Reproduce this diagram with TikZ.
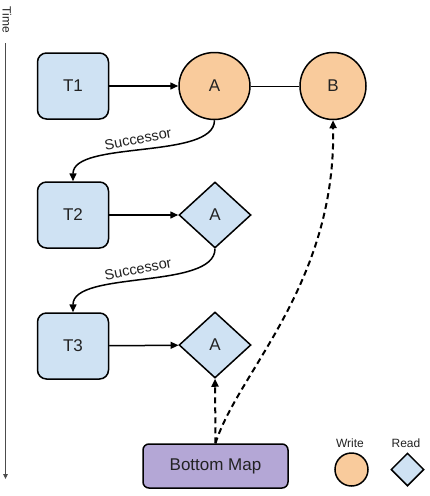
\documentclass[tikz,border=0pt]{standalone}
\usepackage{fontspec}
\setmainfont{Liberation Sans}
\usetikzlibrary{shapes.geometric,arrows.meta}
\definecolor{lblue}{HTML}{CFE2F3}
\definecolor{lorange}{HTML}{F9CB9C}
\definecolor{lpurple}{HTML}{B4A7D6}
\definecolor{txt}{HTML}{222222}
\begin{document}
\begin{tikzpicture}[x=1pt,y=-1pt,
  tbox/.style={draw=black,line width=1.5pt,fill=lblue,rounded corners=9pt,minimum width=71pt,minimum height=66pt,inner sep=0pt,font=\fontsize{17}{17}\selectfont,text=txt},
  wcirc/.style={draw=black,line width=1.5pt,fill=lorange,ellipse,minimum width=71pt,minimum height=67pt,inner sep=0pt,font=\fontsize{17}{17}\selectfont,text=txt},
  rdiam/.style={draw=black,line width=1.5pt,fill=lblue,diamond,minimum width=72pt,minimum height=66pt,inner sep=0pt,font=\fontsize{17}{17}\selectfont,text=txt},
  arr/.style={line width=1.5pt,-{Triangle[length=8pt,width=7pt]}},
  darr/.style={line width=2pt,dash pattern=on 6pt off 4pt,-{Triangle[length=8pt,width=7pt]}},
  lbl/.style={font=\fontsize{14.5}{14.5}\selectfont,text=txt,inner sep=0pt},
  small/.style={font=\fontsize{12}{12}\selectfont,text=txt,inner sep=0pt}
]
\useasboundingbox (0,0) rectangle (430,496);

% time axis
\node[small,rotate=-90] (time) at (7,20) {Time};
\coordinate (ts) at (5.5,43);
\coordinate (te) at (5.5,479);
\draw[line width=0.9pt,draw=black!70,-{Triangle[length=5pt,width=4.5pt]}] (ts) -- (te);

% nodes
\node[tbox] (t1) at (73,86) {T1};
\node[tbox] (t2) at (73,215) {T2};
\node[tbox] (t3) at (73,346) {T3};
\node[wcirc] (a1) at (214.5,86) {A};
\node[wcirc,minimum width=66pt] (b) at (333,86) {B};
\node[rdiam] (a2) at (215,215) {A};
\node[rdiam] (a3) at (215,345) {A};
\node[draw=black,line width=1.5pt,fill=lpurple,rounded corners=6pt,minimum width=145pt,minimum height=44pt,inner sep=0pt,font=\fontsize{17}{17}\selectfont,text=txt] (bm) at (215.5,466) {Bottom Map};

% legend
\node[draw=black,line width=1.5pt,fill=lorange,circle,minimum size=33pt,inner sep=0pt] (lw) at (351.5,469.5) {};
\node[draw=black,line width=1.5pt,fill=lblue,diamond,minimum width=33pt,minimum height=33pt,inner sep=0pt] (lr) at (407.5,469.5) {};
\node[small] (lwt) at (350,443) {Write};
\node[small] (lrt) at (406,443) {Read};

% connectors
\draw[arr] (t1) -- (a1);
\draw[line width=1pt] (a1) -- (b);
\draw[arr] (t2) -- (a2);
\draw[arr] (t3) -- (a3);

\draw[arr] (a1.south) .. controls (214.5,160) and (73,140) .. (t2.north);
\draw[arr] (a2.south) .. controls (215,290) and (73,270) .. (t3.north);
\node[lbl,rotate=11] (s1) at (138,139) {Successor};
\node[lbl,rotate=11] (s2) at (138,269) {Successor};

\draw[darr] (bm.north) -- (a3.south);
\draw[darr] (bm.north) .. controls (238,372) and (336,285) .. (b.south);
\end{tikzpicture}
\end{document}
